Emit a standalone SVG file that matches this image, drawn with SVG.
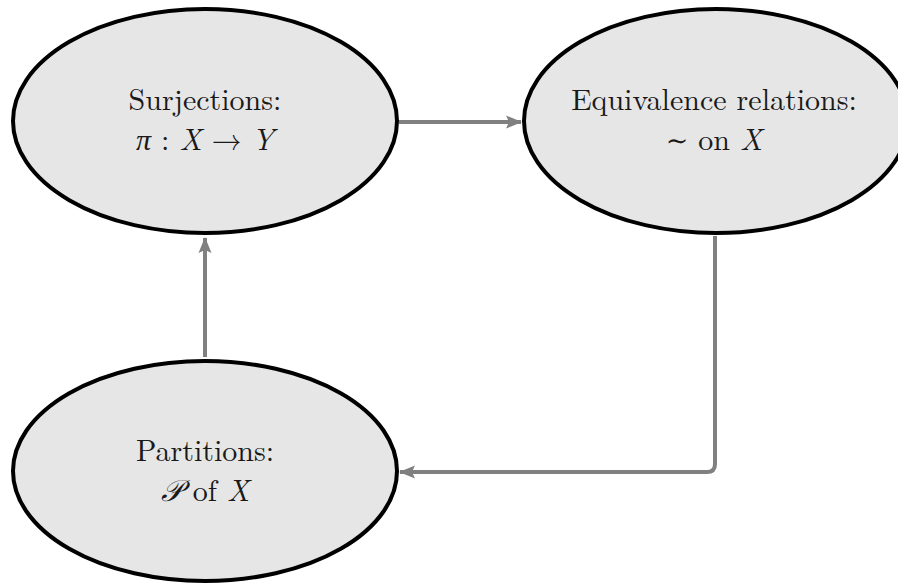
<svg xmlns="http://www.w3.org/2000/svg" width="898" height="585" viewBox="0 0 898 585">
<defs>
<style>
.node ellipse{fill:#e6e6e6;stroke:#000;stroke-width:4}
.lbl{font-family:"Latin Modern Roman","Liberation Serif","DejaVu Serif",serif;font-size:30px;fill:#1a1a1a;text-anchor:middle}
.it{font-style:italic}
.edge{fill:none;stroke:#808080;stroke-width:4;stroke-linejoin:round}
</style>
<marker id="ah" markerUnits="userSpaceOnUse" markerWidth="18" markerHeight="14" refX="15" refY="7" orient="auto">
<path d="M0,0.5 L16,7 L0,13.5 L3,7 Z" fill="#808080"/>
</marker>
</defs>
<g id="edges">
<path class="edge" d="M399,122 L521,122" marker-end="url(#ah)"/>
<path class="edge" d="M715,236 L715,464 Q715,472 707,472 L400,472" marker-end="url(#ah)"/>
<path class="edge" d="M205,357 L205,238" marker-end="url(#ah)"/>
</g>
<g id="surjections" class="node">
<ellipse cx="205" cy="121" rx="192" ry="112"/>
<text class="lbl" x="205" y="110">Surjections:</text>
<text class="lbl" x="205" y="150"><tspan class="it">π</tspan> : <tspan class="it">X</tspan> → <tspan class="it">Y</tspan></text>
</g>
<g id="equivalence" class="node">
<ellipse cx="716" cy="121" rx="192" ry="112"/>
<text class="lbl" x="714" y="110">Equivalence relations:</text>
<text class="lbl" x="714" y="150"><tspan font-family="DejaVu Serif" font-size="27">∼</tspan> on <tspan class="it">X</tspan></text>
</g>
<g id="partitions" class="node">
<ellipse cx="205" cy="471" rx="192" ry="110"/>
<text class="lbl" x="205" y="461">Partitions:</text>
<text class="lbl" x="205" y="501"><tspan class="it">𝒫</tspan> of <tspan class="it">X</tspan></text>
</g>
</svg>
